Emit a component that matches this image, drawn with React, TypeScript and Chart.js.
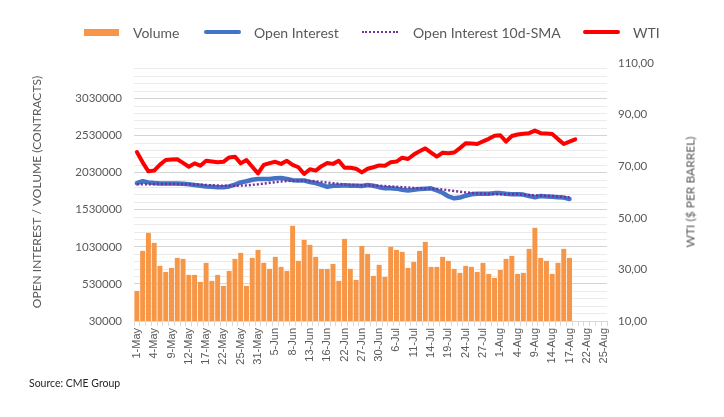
import { useEffect, useRef } from 'react';
import { Chart, registerables } from 'chart.js';

Chart.register(...registerables);

// trading days, 1-May .. 25-Aug (no data after 17/18-Aug)
const categories = [
  '1-May', '2-May', '3-May', '4-May', '5-May', '8-May', '9-May', '10-May', '11-May', '12-May',
  '15-May', '16-May', '17-May', '18-May', '19-May', '22-May', '23-May', '24-May', '25-May', '26-May',
  '30-May', '31-May', '1-Jun', '2-Jun', '5-Jun', '6-Jun', '7-Jun', '8-Jun', '9-Jun', '12-Jun',
  '13-Jun', '14-Jun', '15-Jun', '16-Jun', '20-Jun', '21-Jun', '22-Jun', '23-Jun', '26-Jun', '27-Jun',
  '28-Jun', '29-Jun', '30-Jun', '3-Jul', '5-Jul', '6-Jul', '7-Jul', '10-Jul', '11-Jul', '12-Jul',
  '13-Jul', '14-Jul', '17-Jul', '18-Jul', '19-Jul', '20-Jul', '21-Jul', '24-Jul', '25-Jul', '26-Jul',
  '27-Jul', '28-Jul', '31-Jul', '1-Aug', '2-Aug', '3-Aug', '4-Aug', '7-Aug', '8-Aug', '9-Aug',
  '10-Aug', '11-Aug', '14-Aug', '15-Aug', '16-Aug', '17-Aug', '18-Aug', '21-Aug', '22-Aug', '23-Aug',
  '24-Aug', '25-Aug',
];

const volume = [
  435000, 976000, 1219000, 1084000, 773000, 692000, 746000, 881000, 868000, 652000,
  652000, 557000, 814000, 571000, 652000, 503000, 706000, 868000, 949000, 503000,
  881000, 989000, 814000, 733000, 895000, 760000, 706000, 1314000, 841000, 1125000,
  1057000, 895000, 733000, 733000, 800000, 571000, 1138000, 733000, 584000, 1043000,
  935000, 638000, 787000, 625000, 1030000, 989000, 962000, 746000, 827000, 976000,
  1097000, 760000, 760000, 895000, 841000, 733000, 679000, 773000, 760000, 692000,
  814000, 665000, 611000, 719000, 868000, 908000, 665000, 679000, 1003000, 1287000,
  881000, 841000, 665000, 814000, 1003000, 881000,
];

const openInterest = [
  1890000, 1915000, 1900000, 1890000, 1885000, 1885000, 1885000, 1885000, 1880000, 1875000,
  1865000, 1855000, 1845000, 1840000, 1835000, 1835000, 1845000, 1870000, 1900000, 1915000,
  1935000, 1945000, 1945000, 1945000, 1955000, 1960000, 1945000, 1930000, 1925000, 1925000,
  1905000, 1890000, 1865000, 1840000, 1855000, 1855000, 1860000, 1855000, 1855000, 1850000,
  1865000, 1855000, 1835000, 1820000, 1820000, 1815000, 1800000, 1790000, 1800000, 1810000,
  1815000, 1820000, 1790000, 1760000, 1710000, 1685000, 1695000, 1720000, 1740000, 1745000,
  1745000, 1745000, 1755000, 1755000, 1745000, 1740000, 1740000, 1735000, 1715000, 1700000,
  1715000, 1710000, 1705000, 1700000, 1695000, 1675000,
];

const openInterestSma = [
  1875000, 1875000, 1876000, 1876000, 1877000, 1877000, 1877000, 1876000, 1875000, 1874000,
  1872000, 1868000, 1864000, 1860000, 1857000, 1855000, 1854000, 1855000, 1857000, 1860000,
  1866000, 1874000, 1884000, 1894000, 1904000, 1912000, 1918000, 1922000, 1924000, 1924000,
  1920000, 1913000, 1905000, 1897000, 1888000, 1880000, 1873000, 1868000, 1865000, 1862000,
  1860000, 1858000, 1855000, 1850000, 1845000, 1840000, 1835000, 1830000, 1825000, 1820000,
  1818000, 1815000, 1812000, 1805000, 1795000, 1785000, 1775000, 1765000, 1758000, 1752000,
  1748000, 1745000, 1742000, 1740000, 1740000, 1740000, 1738000, 1735000, 1730000, 1725000,
  1722000, 1720000, 1715000, 1710000, 1703000, 1697000,
];

const wti = [
  75.5, 71.5, 68.0, 68.3, 70.6, 72.4, 72.6, 72.7, 71.3, 69.8,
  71.1, 70.2, 72.1, 71.8, 71.5, 71.7, 73.4, 73.7, 71.1, 72.4,
  69.8, 67.2, 70.5, 71.2, 71.7, 70.9, 72.1, 70.5, 69.6, 67.0,
  68.8, 68.3, 70.0, 71.2, 70.9, 72.1, 69.4, 69.4, 69.0, 67.6,
  69.0, 69.6, 70.3, 70.2, 71.5, 71.8, 73.3, 72.8, 74.5, 75.8,
  76.9, 75.3, 73.7, 75.2, 75.0, 75.3, 77.0, 78.9, 78.8, 78.6,
  79.6, 80.6, 81.8, 82.0, 79.5, 81.7, 82.3, 82.6, 82.8, 83.8,
  82.8, 82.7, 82.5, 80.5, 78.6, 79.5, 80.4,
];

// left axis: gridline every 100000 from 30000, label every 500000
const leftMin = 30000;
const leftMax = 3510000;
const leftStep = 100000;
const leftLabelStep = 500000;

const ORANGE = '#F79646';
const BLUE = '#4472C4';
const PURPLE = '#7030A0';
const RED = '#FF0000';
const TEXT = '#595959';

export default function App() {
  const chartRef = useRef<HTMLCanvasElement>(null);
  const chartInstance = useRef<Chart | null>(null);

  useEffect(() => {
    document.body.style.margin = '0';
    if (!chartRef.current) return;
    if (chartInstance.current) chartInstance.current.destroy();
    const ctx = chartRef.current.getContext('2d');
    if (!ctx) return;

    Chart.defaults.font.family = 'Lato';

    const leftTicks: number[] = [];
    for (let v = leftMin; v <= leftMax; v += leftStep) leftTicks.push(v);

    chartInstance.current = new Chart(ctx, {
      type: 'bar',
      data: {
        labels: categories,
        datasets: [
          {
            type: 'line',
            label: 'WTI',
            data: wti,
            yAxisID: 'y1',
            borderColor: RED,
            borderWidth: 4,
            pointRadius: 0,
            tension: 0,
            borderJoinStyle: 'round',
            borderCapStyle: 'round',
            order: 0,
          },
          {
            type: 'line',
            label: 'Open Interest 10d-SMA',
            data: openInterestSma,
            yAxisID: 'y',
            borderColor: PURPLE,
            borderWidth: 2.5,
            borderDash: [2, 2],
            pointRadius: 0,
            tension: 0,
            order: 1,
          },
          {
            type: 'line',
            label: 'Open Interest',
            data: openInterest,
            yAxisID: 'y',
            borderColor: BLUE,
            borderWidth: 4.5,
            pointRadius: 0,
            tension: 0,
            borderJoinStyle: 'round',
            borderCapStyle: 'round',
            order: 2,
          },
          {
            type: 'bar',
            label: 'Volume',
            data: volume,
            yAxisID: 'y',
            backgroundColor: ORANGE,
            barPercentage: 0.86,
            categoryPercentage: 1,
            order: 3,
          },
        ],
      },
      options: {
        responsive: true,
        maintainAspectRatio: false,
        animation: false,
        layout: { padding: { top: 63 } },
        plugins: {
          legend: { display: false },
          tooltip: { enabled: false },
        },
        scales: {
          x: {
            offset: true,
            afterFit: (s) => { s.height = 96; },
            grid: { offset: true, drawOnChartArea: false, drawTicks: true, tickLength: 5, color: '#D9D9D9' },
            border: { color: '#D9D9D9' },
            ticks: {
              autoSkip: false,
              maxRotation: 90,
              minRotation: 90,
              padding: 2,
              color: TEXT,
              font: { family: 'Liberation Sans', size: 11 },
              callback: (_v, i) => (i % 3 === 0 ? categories[i] : ''),
            },
          },
          y: {
            position: 'left',
            min: leftMin,
            max: leftMax,
            afterBuildTicks: (s) => { s.ticks = leftTicks.map((v) => ({ value: v })); },
            afterFit: (s) => { s.width = 134; },
            grid: {
              drawTicks: false,
              color: (c) => ((c.tick.value - leftMin) % leftLabelStep === 0 ? '#D4D4D4' : '#EBEBEB'),
            },
            border: { display: false },
            ticks: {
              autoSkip: false,
              padding: 12,
              color: TEXT,
              font: { size: 11.5 },
              callback: (v) => ((Number(v) - leftMin) % leftLabelStep === 0 ? String(v) : ''),
            },
            title: {
              display: true,
              text: 'OPEN INTEREST / VOLUME (CONTRACTS)',
              color: TEXT,
              font: { size: 12 },
              padding: { top: 30, bottom: 0 },
            },
          },
          y1: {
            position: 'right',
            min: 10,
            max: 110,
            afterFit: (s) => { s.width = 117; },
            grid: { display: false, drawTicks: false },
            border: { display: false },
            ticks: {
              stepSize: 20,
              padding: 11,
              color: TEXT,
              font: { size: 11.5 },
              callback: (v) => Number(v).toFixed(2).replace('.', ','),
            },
          },
        },
      },
    });

    return () => {
      if (chartInstance.current) {
        chartInstance.current.destroy();
        chartInstance.current = null;
      }
    };
  }, []);

  const legendText: React.CSSProperties = {
    position: 'absolute',
    top: 32,
    transform: 'translateY(-50%)',
    fontFamily: 'Lato',
    fontSize: 14,
    color: TEXT,
    whiteSpace: 'nowrap',
  };

  return (
    <div style={{ position: 'relative', width: 724, height: 417, background: '#fff' }}>
      <canvas ref={chartRef}></canvas>

      {/* Legend */}
      <div style={{ position: 'absolute', left: 84, top: 28.5, width: 35, height: 7.5, background: ORANGE }} />
      <span style={{ ...legendText, left: 133 }}>Volume</span>
      <div style={{ position: 'absolute', left: 204, top: 30, width: 37, height: 4, borderRadius: 2, background: BLUE }} />
      <span style={{ ...legendText, left: 254 }}>Open Interest</span>
      <div style={{ position: 'absolute', left: 362, top: 31, width: 36, height: 0, borderTop: `2.5px dotted ${PURPLE}` }} />
      <span style={{ ...legendText, left: 413 }}>Open Interest 10d-SMA</span>
      <div style={{ position: 'absolute', left: 583, top: 30, width: 37, height: 4, borderRadius: 2, background: RED }} />
      <span style={{ ...legendText, left: 633 }}>WTI</span>

      {/* right axis title, reads bottom to top */}
      <div
        style={{
          position: 'absolute',
          left: 690,
          top: 192,
          transform: 'translate(-50%, -50%) rotate(-90deg)',
          fontFamily: 'Lato',
          fontSize: 12,
          color: TEXT,
          whiteSpace: 'nowrap',
        }}
      >
        WTI ($ PER BARREL)
      </div>

      <div
        style={{
          position: 'absolute',
          left: 29,
          top: 383,
          transform: 'translateY(-50%)',
          fontFamily: 'Lato',
          fontSize: 10.5,
          color: '#262626',
          whiteSpace: 'nowrap',
        }}
      >
        Source: CME Group
      </div>
    </div>
  );
}
